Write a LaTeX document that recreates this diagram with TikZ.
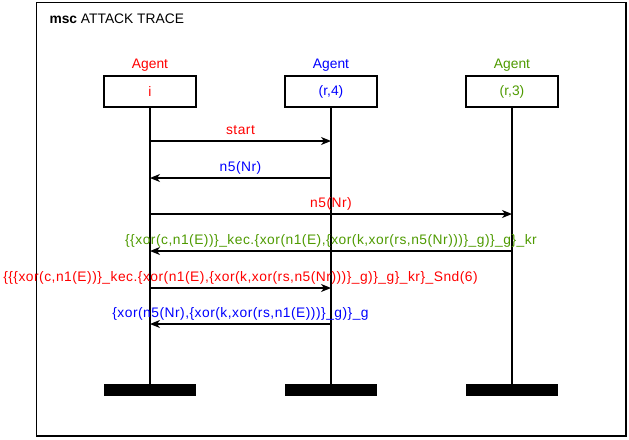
\documentclass[tikz,border=0pt]{standalone}
\usepackage{fontspec}
\setmainfont{Liberation Sans}
\newfontfamily\mscmsgfamily[LetterSpace=3.6]{Liberation Sans}
\usepackage{xcolor}
\definecolor{mscred}{HTML}{FF0000}
\definecolor{mscblue}{HTML}{0000FF}
\definecolor{mscgreen}{HTML}{4E9A00}
\usepackage{tikz}
\usetikzlibrary{arrows.meta,positioning}
\newcommand{\mscfont}{\fontsize{13.8}{16}\selectfont}
\newcommand{\mscmsgfont}{\mscmsgfamily\fontsize{13.8}{16}\selectfont}
\tikzset{
  mscframe/.style={draw,line width=1.4pt},
  mschead/.style={draw,line width=1.2pt,minimum width=92pt,minimum height=31pt,inner sep=0pt,font=\mscfont},
  mscbar/.style={fill=black,minimum width=92pt,minimum height=12pt,inner sep=0pt},
  mscagent/.style={font=\mscfont,inner sep=1pt},
  mscline/.style={line width=1.1pt},
  mscmsg/.style={-{Stealth[length=10pt,width=8pt,inset=3pt]},line width=1.3pt},
  msclabel/.style={font=\mscmsgfont,inner sep=0pt,anchor=base,yshift=6.5pt},
}
\begin{document}
\begin{tikzpicture}[x=1pt,y=-1pt]
\useasboundingbox (0,0) rectangle (629,439);
 % frame of the chart
\draw[mscframe] (36.5,2.5) rectangle (626,436);
\node[anchor=west,font=\mscfont] (title) at (46,19) {\textbf{msc} ATTACK TRACE};
 % instances
\node[mschead,text=mscred] (ihead) at (150,91.5) {i};
\node[mschead,text=mscblue] (rfhead) at (331,91.5) {(r,4)};
\node[mschead,text=mscgreen] (rthead) at (512,91.5) {(r,3)};
\node[mscagent,text=mscred,above=3pt of ihead] (iagent) {Agent};
\node[mscagent,text=mscblue,above=3pt of rfhead] (rfagent) {Agent};
\node[mscagent,text=mscgreen,above=3pt of rthead] (rtagent) {Agent};
\node[mscbar] (iend) at (150,390) {};
\node[mscbar] (rfend) at (331,390) {};
\node[mscbar] (rtend) at (512,390) {};
\draw[mscline] (ihead) -- (iend);
\draw[mscline] (rfhead) -- (rfend);
\draw[mscline] (rthead) -- (rtend);
 % message points on the lifelines
\foreach \k/\y in {1/141,2/178,3/214,4/251,5/288,6/324}{
  \coordinate (i\k) at (150,\y);
  \coordinate (rf\k) at (331,\y);
  \coordinate (rt\k) at (512,\y);
}
 % messages
\draw[mscmsg] (i1) -- node[msclabel,text=mscred]{start} (rf1);
\draw[mscmsg] (rf2) -- node[msclabel,text=mscblue]{n5(Nr)} (i2);
\draw[mscmsg] (i3) -- node[msclabel,text=mscred]{n5(Nr)} (rt3);
\draw[mscmsg] (rt4) -- node[msclabel,text=mscgreen]{\{\{xor(c,n1(E))\}\_kec.\{xor(n1(E),\{xor(k,xor(rs,n5(Nr)))\}\_g)\}\_g\}\_kr} (i4);
\draw[mscmsg] (i5) -- node[msclabel,text=mscred]{\{\{\{xor(c,n1(E))\}\_kec.\{xor(n1(E),\{xor(k,xor(rs,n5(Nr)))\}\_g)\}\_g\}\_kr\}\_Snd(6)} (rf5);
\draw[mscmsg] (rf6) -- node[msclabel,text=mscblue]{\{xor(n5(Nr),\{xor(k,xor(rs,n1(E)))\}\_g)\}\_g} (i6);
\end{tikzpicture}
\end{document}
